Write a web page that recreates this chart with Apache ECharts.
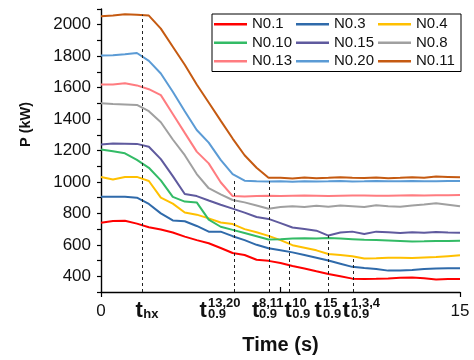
<!DOCTYPE html>
<html><head><meta charset="utf-8">
<script src="https://cdn.jsdelivr.net/npm/echarts@6/dist/echarts.min.js"></script>
<style>html,body{margin:0;padding:0;background:#fff}#c{width:474px;height:360px}</style>
</head><body><div id="c"></div>
<script>
const times = [0,0.5,1,1.5,2,2.5,3,3.5,4,4.5,5,5.5,6,6.5,7,7.5,8,8.5,9,9.5,10,10.5,11,11.5,12,12.5,13,13.5,14,14.5,15];
const seriesNames = ['N0.1','N0.3','N0.4','N0.10','N0.15','N0.8','N0.13','N0.20','N0.11'];
const n01  = [740,752,753,735,712,697,678,652,630,610,580,548,535,505,498,485,465,450,432,415,400,385,383,384,386,390,393,388,380,383,383];
const n03  = [906,906,906,900,860,800,755,750,720,684,684,655,630,600,578,566,552,535,518,500,480,460,452,446,436,437,440,446,450,451,451];
const n04  = [1032,1016,1032,1032,1006,900,862,806,792,768,742,732,700,680,657,630,598,582,565,542,535,528,513,515,518,518,517,520,522,528,534];
const n010 = [1207,1195,1182,1140,1090,1010,905,875,870,760,715,695,675,655,634,636,640,642,641,643,640,636,632,630,628,625,621,622,624,625,626];
const n015 = [1238,1244,1243,1242,1224,1145,1037,923,910,882,855,830,805,777,765,738,710,700,690,659,678,684,669,684,680,676,680,677,682,678,677];
const n08  = [1500,1495,1493,1490,1450,1380,1270,1170,1050,960,921,885,870,850,830,840,845,840,848,842,850,845,840,852,846,842,850,856,864,855,845];
const n013 = [1620,1620,1628,1614,1590,1552,1432,1312,1193,1118,998,910,908,910,912,910,912,914,912,910,912,914,913,912,912,914,915,914,915,916,917];
const n020 = [1805,1806,1812,1820,1770,1690,1574,1450,1330,1250,1140,1050,1008,1005,1003,1004,1002,1005,1003,1004,1006,1003,1004,1006,1005,1004,1006,1005,1004,1006,1006];
const n011 = [2054,2058,2066,2063,2058,1975,1860,1745,1620,1505,1390,1276,1170,1090,1026,1026,1022,1028,1024,1026,1030,1027,1025,1028,1024,1026,1030,1027,1034,1032,1030];
const seriesValues = [n01,n03,n04,n010,n015,n08,n013,n020,n011];
const colors = ['#FF0000','#2F6AAA','#FFC000','#33BB66','#5F5A9E','#A0A0A0','#FF7C80','#5B9BD5','#C55A11'];

// dashed markers: time and the value where each dashed line ends
const dashTimes = [1.71, 5.58, 7.02, 7.87, 9.48, 10.56];
const dashTops  = [2064, 1014, 1026, 636, 660, 528];

// x tick labels
const numberTicks = [0, 15];
const tTimes      = [1.59, 4.27, 6.46, 7.82, 9.07, 10.24];   // where each "t" sits
const scriptTimes = [1.77, 4.47, 6.60, 7.99, 9.28, 10.45];   // where its indices start
const labelSups   = ['', '13,20', '8,11', '10', '15', '1,3,4'];
const labelSubs   = ['hx', '0.9', '0.9', '0.9', '0.9', '0.9'];

const yMin = 300, yMax = 2100;
const FONT = 'Liberation Sans, Arial, sans-serif';
const idxOf = (arr, v) => arr.findIndex(t => Math.abs(t - v) < 1e-6);

const chart = echarts.init(document.getElementById('c'), null, {renderer: 'canvas'});
const series = seriesNames.map((name, k) => ({
  name, type: 'line', xAxisIndex: 0, yAxisIndex: 0,
  data: times.map((t, i) => [t, seriesValues[k][i]]),
  showSymbol: false, symbol: 'none', smooth: false,
  lineStyle: {width: 2, color: colors[k]}, itemStyle: {color: colors[k]},
  z: 3
}));
series.push({
  name: 'dash', type: 'line', data: [], xAxisIndex: 0, yAxisIndex: 0,
  markLine: {
    silent: true, symbol: ['none', 'none'], animation: false,
    label: {show: false},
    lineStyle: {color: '#222', width: 1, type: [3, 3]},
    data: dashTimes.map((t, i) => [{coord: [t, yMin]}, {coord: [t, dashTops[i]]}])
  },
  z: 2
});

function labelAxis(values, formatter, margin, fontSize, bold, align) {
  return {
    type: 'value', min: 0, max: 15, position: 'bottom',
    axisLine: {show: false}, axisTick: {show: false}, splitLine: {show: false},
    axisLabel: {
      show: true, customValues: values, formatter, margin, align,
      fontSize, fontWeight: bold ? 'bold' : 'normal', color: '#111', fontFamily: FONT
    }
  };
}

chart.setOption({
  animation: false,
  backgroundColor: '#fff',
  textStyle: {fontFamily: FONT},
  grid: {left: 101, right: 14, top: 9, bottom: 62, containLabel: false},
  legend: {
    data: seriesNames, left: 212, top: 14, width: 250,
    orient: 'horizontal', icon: 'rect', itemWidth: 33, itemHeight: 2.5, itemGap: 0,
    padding: [1, 1, 1, 2], borderColor: '#000', borderWidth: 1, backgroundColor: '#fff',
    textStyle: {fontSize: 15, color: '#111', width: 44, lineHeight: 18.5, fontFamily: FONT}
  },
  xAxis: [{
    type: 'value', min: 0, max: 15, position: 'bottom',
    name: 'Time (s)', nameLocation: 'middle', nameGap: 43,
    nameTextStyle: {fontSize: 20, fontWeight: 'bold', color: '#111', fontFamily: FONT},
    axisLine: {show: true, lineStyle: {color: '#000', width: 1.4}},
    axisTick: {show: true, inside: false, length: 5, customValues: numberTicks, lineStyle: {color: '#000', width: 1.2}},
    splitLine: {show: false},
    axisLabel: {show: true, customValues: numberTicks, margin: 10.5, fontSize: 17, color: '#111', fontFamily: FONT}
  }, {
    type: 'value', min: 0, max: 15, position: 'bottom',
    axisLine: {show: false},
    axisTick: {show: true, inside: true, length: 5, customValues: [7.5], lineStyle: {color: '#000', width: 1.2}},
    axisLabel: {show: false}, splitLine: {show: false}
  },
  labelAxis(tTimes, () => 't', 8.1, 22, true, 'center'),
  labelAxis(scriptTimes, v => labelSups[idxOf(scriptTimes, v)] || '', 5, 13, true, 'left'),
  labelAxis(scriptTimes, v => labelSubs[idxOf(scriptTimes, v)] || '', 15.7, 13, true, 'left')
  ],
  yAxis: {
    type: 'value', min: yMin, max: yMax, interval: 100,
    name: 'P (kW)', nameLocation: 'middle', nameGap: 68, nameRotate: 90,
    nameTextStyle: {fontSize: 14.5, fontWeight: 'bold', color: '#111', fontFamily: FONT, padding: [0, 0, 0, 52]},
    axisLine: {show: true, lineStyle: {color: '#000', width: 1.4}},
    axisTick: {show: true, inside: false, length: 4, lineStyle: {color: '#000', width: 1.2}},
    splitLine: {show: false},
    axisLabel: {
      margin: 10, fontSize: 17, color: '#111', fontFamily: FONT,
      formatter: v => (v % 200 === 0 && v >= 400 && v <= 2000) ? String(v) : ''
    }
  },
  series
});
</script></body></html>
